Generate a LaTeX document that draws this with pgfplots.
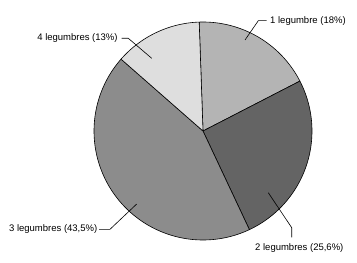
\documentclass[border=0pt]{standalone}
\usepackage{pgfplots}
\pgfplotsset{compat=1.18}
\usepackage{pgfplotstable}
\usepackage{fontspec}
\setmainfont{Liberation Sans}
\definecolor{cA}{RGB}{180,180,180}
\definecolor{cB}{RGB}{100,100,100}
\definecolor{cC}{RGB}{140,140,140}
\definecolor{cD}{RGB}{222,222,222}
\pgfplotstableread{
cat pct
1 18
2 25.6
3 43.5
4 13
}\piedata
\begin{document}
\fontsize{9.5bp}{11bp}\selectfont
\begin{tikzpicture}
\pgfplotstablegetelem{0}{pct}\of\piedata \let\pa\pgfplotsretval
\pgfplotstablegetelem{1}{pct}\of\piedata \let\pb\pgfplotsretval
\pgfplotstablegetelem{2}{pct}\of\piedata \let\pc\pgfplotsretval
\pgfplotstablegetelem{3}{pct}\of\piedata \let\pd\pgfplotsretval
\pgfmathsetmacro{\tot}{\pa+\pb+\pc+\pd}
\pgfmathsetmacro{\aA}{92}
\pgfmathsetmacro{\aB}{\aA-\pa/\tot*360}
\pgfmathsetmacro{\aC}{\aB-\pb/\tot*360}
\pgfmathsetmacro{\aD}{\aC-\pc/\tot*360}
\pgfmathsetmacro{\aE}{\aD-\pd/\tot*360}
\begin{axis}[width=357bp,height=263bp,scale only axis,
  xmin=0,xmax=357,ymin=0,ymax=263,y dir=reverse,
  axis line style={draw=none},xtick=\empty,ytick=\empty,clip=false]
\addplot[fill=cA,draw=black,line width=0.6bp,domain=\aB:\aA,samples=80,variable=\t]
  ({203+109*cos(\t)},{131-109*sin(\t)}) -- (axis cs:203,131) -- cycle;
\addplot[fill=cB,draw=black,line width=0.6bp,domain=\aC:\aB,samples=80,variable=\t]
  ({203+109*cos(\t)},{131-109*sin(\t)}) -- (axis cs:203,131) -- cycle;
\addplot[fill=cC,draw=black,line width=0.6bp,domain=\aD:\aC,samples=120,variable=\t]
  ({203+109*cos(\t)},{131-109*sin(\t)}) -- (axis cs:203,131) -- cycle;
\addplot[fill=cD,draw=black,line width=0.6bp,domain=\aE:\aD,samples=60,variable=\t]
  ({203+109*cos(\t)},{131-109*sin(\t)}) -- (axis cs:203,131) -- cycle;
\draw[line width=0.6bp] (axis cs:245,40) -- (axis cs:258.3,20.7) -- (axis cs:266.7,20.7);
\node[anchor=west,inner sep=0] at (axis cs:270,20.7) {1 legumbre (18\%)};
\draw[line width=0.6bp] (axis cs:121.7,38.3) -- (axis cs:128.3,38.3) -- (axis cs:151.7,58.3);
\node[anchor=east,inner sep=0] at (axis cs:117.8,38.3) {4 legumbres (13\%)};
\draw[line width=0.6bp] (axis cs:99,229.3) -- (axis cs:110,229.3) -- (axis cs:136.7,204);
\node[anchor=east,inner sep=0] at (axis cs:97.5,229.3) {3 legumbres (43,5\%)};
\draw[line width=0.6bp] (axis cs:268.3,192.7) -- (axis cs:291.7,227.7) -- (axis cs:291.7,237.3);
\node[anchor=west,inner sep=0] at (axis cs:255,248.3) {2 legumbres (25,6\%)};
\end{axis}
\end{tikzpicture}
\end{document}
